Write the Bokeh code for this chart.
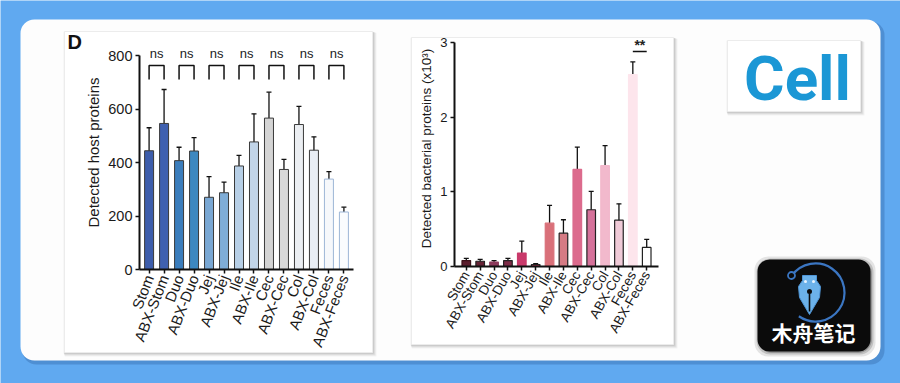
import math
from bokeh.plotting import figure
from bokeh.layouts import column
from bokeh.models import (GridBox, Range1d, FactorRange, ColumnDataSource, Whisker,
                          TeeHead, FixedTicker)
from bokeh.core.properties import value
from bokeh.embed import file_html
from bokeh.resources import INLINE

# ---------------- data ----------------
categories = ["Stom", "ABX-Stom", "Duo", "ABX-Duo", "Jej", "ABX-Jej", "Ile", "ABX-Ile",
              "Cec", "ABX-Cec", "Col", "ABX-Col", "Feces", "ABX-Feces"]
host_values = [444, 546, 407, 443, 270, 287, 387, 477, 566, 374, 542, 446, 338, 215]
host_errors = [86, 127, 50, 50, 77, 40, 40, 105, 97, 38, 68, 50, 28, 18]
bact_values = [0.08, 0.07, 0.06, 0.08, 0.18, 0.027, 0.58, 0.446, 1.30, 0.76, 1.35, 0.62, 2.57, 0.255]
bact_errors = [0.03, 0.025, 0.02, 0.03, 0.16, 0.012, 0.24, 0.18, 0.30, 0.245, 0.27, 0.22, 0.17, 0.107]
host_ticks = [0, 200, 400, 600, 800]
bact_ticks = [0, 1, 2, 3]
ns_pairs = [("Stom", "ABX-Stom"), ("Duo", "ABX-Duo"), ("Jej", "ABX-Jej"), ("Ile", "ABX-Ile"),
            ("Cec", "ABX-Cec"), ("Col", "ABX-Col"), ("Feces", "ABX-Feces")]
ns_labels = ["ns"] * 7
sig_pair = ("Feces", "ABX-Feces")
sig_label = "**"
host_label = "Detected host proteins"
bact_label = "Detected bacterial proteins (x10\u00b3)"

host_colors = ["#3d5dab", "#3f60b0", "#3b7dbc", "#3d88c0", "#79a7d3", "#7fadd7", "#b7cfe6",
               "#c2d5e9", "#d4d4d4", "#d8d8d8", "#ebeef2", "#e9eef5", "#f6f8fb", "#fafcfe"]
host_lines = ["#3a3a3a"] * 12 + ["#9db6d6", "#9db6d6"]
bact_colors = ["#5b1e2e", "#652235", "#8c3a5c", "#7d2b47", "#c93a6b", "#a3344f", "#d97079",
               "#d57b84", "#dc6b8d", "#d5729a", "#f2b9cc", "#efcad7", "#fde5ec", "#ffffff"]
bact_lines = ["#3a1018", "#222222", "#8c3a5c", "#222222", "#c93a6b", "#222222", "#d97079",
              "#222222", "#dc6b8d", "#222222", "#f2b9cc", "#222222", "#fde5ec", "#222222"]

FONT = "Liberation Sans"
BLUE = "#60a9f0"

# ---------------- background / decoration ----------------
bg = figure(width=900, height=383, x_range=Range1d(0, 900), y_range=Range1d(383, 0),
            output_backend="svg", toolbar_location=None, min_border=0,
            x_axis_location=None, y_axis_location=None, outline_line_color=None,
            background_fill_color=BLUE, border_fill_color=BLUE)
bg.grid.visible = False

# slide shadow + slide
bg.quad(left=22, right=884, top=21, bottom=364, fill_color="#4a88cc", fill_alpha=0.8,
        line_color=None, border_radius=14)
bg.quad(left=20, right=880, top=19, bottom=360, fill_color="#fdfdfd", line_color=None,
        border_radius=14)

def card(l, r, t, b):
    for k, a in [(4, 0.10), (3, 0.15), (2, 0.22), (1, 0.3)]:
        bg.quad(left=l - 1 + k * 0.3, right=r + k, top=t + k * 0.3, bottom=b + k,
                fill_color="#9a9a9a", fill_alpha=a, line_color=None)
    bg.quad(left=l, right=r, top=t, bottom=b, fill_color="white", line_color="#ececec",
            line_width=1)

card(64, 372, 31, 352)
card(411, 673, 37, 344)
card(727, 860, 40, 111)

bg.text(x=[67], y=[41.5], text=["D"], text_font=value(FONT), text_font_style="bold",
        text_font_size="20px", text_color="#111111", text_baseline="middle",
        text_align="left")
bg.text(x=[797], y=[78], text=["Cell"], text_font=value("Roboto"), text_font_style="bold",
        text_font_size="62px", text_color="#1b97d5", text_baseline="middle",
        text_align="center")

# watermark
for k, a in [(5, 0.12), (3, 0.2), (1.5, 0.3)]:
    bg.quad(left=757 - k + 2, right=870 + k, top=259 - k + 2, bottom=351 + k,
            fill_color="#333333", fill_alpha=a, line_color=None, border_radius=14)
bg.quad(left=757, right=870, top=259, bottom=351, fill_color="#0b0b0b", line_color=None,
        border_radius=12)
bg.arc(x=815, y=292, radius=29, start_angle=math.radians(235), end_angle=math.radians(145),
       line_color="#3b76c2", line_width=2.2)
bg.scatter(x=[791], y=[275], size=7, marker="circle", fill_color="#0b0b0b",
           line_color="#3b76c2", line_width=1.8)
bg.patch(x=[802, 816, 816, 820, 819, 809, 799, 798, 802],
         y=[275, 275, 280, 286, 297, 314, 297, 286, 280],
         fill_color="#6cb2ea", line_color="#4f95d6", line_width=1)
bg.segment(x0=[809], y0=[293], x1=[809], y1=[311], line_color="#0b0b0b", line_width=1.6)
bg.scatter(x=[809], y=[291], size=5, marker="circle", fill_color="#0b0b0b", line_color=None)
bg.scatter(x=[805, 813], y=[281, 281], size=3, marker="circle", fill_color="#e8f4ff",
           line_color=None)
bg.text(x=[813], y=[331], text=["木舟笔记"], text_font=value("Noto Sans CJK SC"),
        text_font_style="bold", text_font_size="21px", text_color="white",
        text_baseline="middle", text_align="center")


# ---------------- charts ----------------
def style_axes(p, tick_font, label_font, xlab_font, orient, ticks, top):
    p.xgrid.visible = False
    p.ygrid.visible = False
    for ax in (p.xaxis[0], p.yaxis[0]):
        ax.axis_line_width = 2
        ax.axis_line_color = "#111111"
        ax.major_tick_line_width = 1.5
        ax.major_tick_line_color = "#111111"
        ax.major_tick_out = 4
        ax.major_tick_in = 0
        ax.minor_tick_line_color = None
        ax.major_label_text_font = FONT
        ax.major_label_text_color = "#1a1a1a"
        ax.axis_label_text_font = FONT
        ax.axis_label_text_font_style = "normal"
        ax.axis_label_text_color = "#1a1a1a"
    p.yaxis[0].ticker = FixedTicker(ticks=ticks)
    p.yaxis[0].bounds = (0, top)
    p.yaxis[0].major_label_text_font_size = tick_font
    p.yaxis[0].axis_label_text_font_size = label_font
    p.yaxis[0].major_label_standoff = 3
    p.yaxis[0].axis_label_standoff = 3
    p.xaxis[0].major_label_text_font_size = xlab_font
    p.xaxis[0].major_label_orientation = orient
    p.xaxis[0].major_label_standoff = 2


# left chart: host proteins
src1 = ColumnDataSource(dict(
    cat=categories, val=host_values, color=host_colors, line=host_lines,
    upper=[v + e for v, e in zip(host_values, host_errors)],
    lower=[v - e for v, e in zip(host_values, host_errors)]))
p1 = figure(width=308, height=326, x_range=FactorRange(*categories, range_padding=0.02),
            y_range=Range1d(0, 874.8), output_backend="svg", toolbar_location=None,
            min_border_left=75, min_border_right=19, min_border_top=4, min_border_bottom=88,
            background_fill_alpha=0, border_fill_alpha=0, outline_line_color=None,
            y_axis_label=host_label)
p1.vbar(x="cat", top="val", width=0.6, source=src1, fill_color="color", line_color="line",
        line_width=1)
p1.add_layout(Whisker(base="cat", upper="upper", lower="lower", source=src1,
                      line_color="#111111", line_width=1.3,
                      upper_head=TeeHead(size=5, line_color="#111111", line_width=1.3),
                      lower_head=TeeHead(size=5, line_color="#111111", line_width=1.3)))
p1.multi_line(xs=[[a, a, b, b] for a, b in ns_pairs],
              ys=[[710, 763, 763, 710] for _ in ns_pairs],
              line_color="#111111", line_width=1.5)
p1.text(x=[a for a, b in ns_pairs], y=[808] * len(ns_pairs), text=ns_labels, x_offset=7.6,
        text_font=value(FONT), text_font_size="13px", text_color="#222222",
        text_align="center", text_baseline="middle")
style_axes(p1, "14.5px", "15px", "15px", 1.2, host_ticks, 800)

# right chart: bacterial proteins
src2 = ColumnDataSource(dict(
    cat=categories, val=bact_values, color=bact_colors, line=bact_lines,
    upper=[v + e for v, e in zip(bact_values, bact_errors)],
    lower=[v - e for v, e in zip(bact_values, bact_errors)]))
p2 = figure(width=262, height=314, x_range=FactorRange(*categories, range_padding=0.05),
            y_range=Range1d(0, 3.161), output_backend="svg", toolbar_location=None,
            min_border_left=43, min_border_right=15, min_border_top=0, min_border_bottom=78,
            background_fill_alpha=0, border_fill_alpha=0, outline_line_color=None,
            y_axis_label=bact_label)
p2.vbar(x="cat", top="val", width=0.62, source=src2, fill_color="color", line_color="line",
        line_width=1.2)
p2.add_layout(Whisker(base="cat", upper="upper", lower="lower", source=src2,
                      line_color="#111111", line_width=1.3,
                      upper_head=TeeHead(size=5, line_color="#111111", line_width=1.3),
                      lower_head=TeeHead(size=5, line_color="#111111", line_width=1.3)))
p2.segment(x0=[sig_pair[0]], y0=[2.88], x1=[sig_pair[1]], y1=[2.88], line_color="#111111",
           line_width=1.5)
p2.text(x=[sig_pair[0]], y=[2.97], text=[sig_label], x_offset=7,
        text_font=value(FONT), text_font_style="bold", text_font_size="14px",
        text_color="#222222", text_align="center", text_baseline="middle")
style_axes(p2, "13px", "13.5px", "13.5px", 1.05, bact_ticks, 3)

c0 = column(bg)
c1 = column(p1)
c1.margin = (31, 0, 0, 64)
c2 = column(p2)
c2.margin = (30, 0, 0, 411)

layout = GridBox(children=[(c0, 0, 0), (c1, 0, 0), (c2, 0, 0)])

open("out.html", "w").write(file_html(layout, INLINE))
